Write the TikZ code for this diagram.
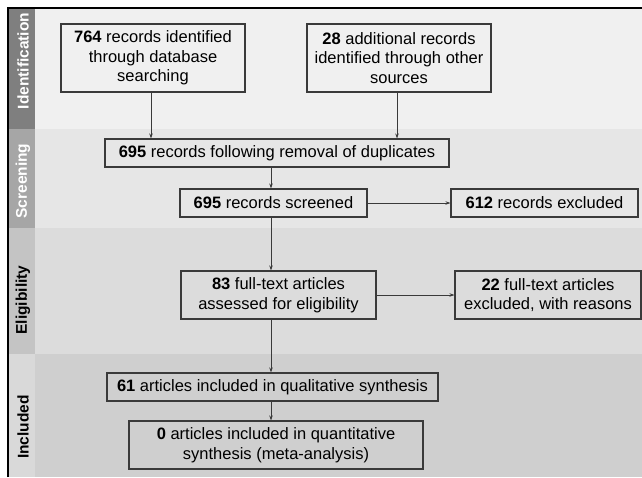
\documentclass[tikz,border=0pt]{standalone}
\usepackage{fontspec}
\setmainfont{Liberation Sans}
\usetikzlibrary{arrows.meta}
\definecolor{bandA}{HTML}{F0F0F0}
\definecolor{bandB}{HTML}{E6E6E6}
\definecolor{bandC}{HTML}{DCDCDC}
\definecolor{bandD}{HTML}{CFCFCF}
\definecolor{stripA}{HTML}{7F7F7F}
\definecolor{stripB}{HTML}{A6A6A6}
\definecolor{stripC}{HTML}{C4C4C4}
\definecolor{stripD}{HTML}{D9D9D9}
\definecolor{boxline}{HTML}{3A3A3A}
\tikzset{
  flowbox/.style={draw=boxline, line width=1.1pt, rectangle, align=center, inner sep=0pt,
    font=\fontsize{16.5}{19.5}\selectfont},
  flowarrow/.style={draw=boxline, line width=0.8pt, -{Stealth[length=5pt,width=3.5pt]}},
  stagelabel/.style={rotate=90, font=\fontsize{15.5}{18}\selectfont\bfseries, inner sep=0pt}
}
\begin{document}
\begin{tikzpicture}[x=1pt,y=-1pt]
\useasboundingbox (0,0) rectangle (642,477);
% bands
\fill[white] (0,0) rectangle (642,477);
\fill[bandA] (9,8) rectangle (642,129);
\fill[bandB] (9,129) rectangle (642,228);
\fill[bandC] (9,228) rectangle (642,354);
\fill[bandD] (9,354) rectangle (642,477);
\fill[stripA] (9,8) rectangle (35,129);
\fill[stripB] (9,129) rectangle (35,228);
\fill[stripC] (9,228) rectangle (35,354);
\fill[stripD] (9,354) rectangle (35,477);
% frame
\draw[black, line width=2pt] (8,477) -- (8,7.5) -- (642,7.5);
% stage labels
\node[stagelabel, text=white] (lid) at (23,61) {Identification};
\node[stagelabel, text=white] (lsc) at (23,181) {Screening};
\node[stagelabel, text=black] (lel) at (23,300) {Eligibility};
\node[stagelabel, text=black] (lin) at (23,427) {Included};
% boxes
\node[flowbox, minimum width=184pt, minimum height=68pt] (b1) at (153,58)
  {\textbf{764} records identified\\through database\\searching};
\node[flowbox, minimum width=184pt, minimum height=68pt] (b2) at (399,58)
  {\textbf{28} additional records\\identified through other\\sources};
\node[flowbox, minimum width=344pt, minimum height=28pt] (b3) at (277,153)
  {\textbf{695} records following removal of duplicates};
\node[flowbox, minimum width=187pt, minimum height=28pt] (b4) at (273.5,203)
  {\textbf{695} records screened};
\node[flowbox, minimum width=187pt, minimum height=28pt] (b5) at (544.5,203)
  {\textbf{612} records excluded};
\node[flowbox, minimum width=195pt, minimum height=48pt] (b6) at (278.5,295)
  {\textbf{83} full-text articles\\assessed for eligibility};
\node[flowbox, minimum width=186pt, minimum height=48pt] (b7) at (548,295)
  {\textbf{22} full-text articles\\excluded, with reasons};
\node[flowbox, minimum width=331pt, minimum height=28pt] (b8) at (272.5,387)
  {\textbf{61} articles included in qualitative synthesis};
\node[flowbox, minimum width=294pt, minimum height=48pt] (b9) at (276,445)
  {\textbf{0} articles included in quantitative\\synthesis (meta-analysis)};
% connectors
\coordinate (ax) at (271,0);
\coordinate (a1) at (151,0);
\coordinate (a2) at (397,0);
\draw[flowarrow] (b1.south -| a1) -- (b3.north -| a1);
\draw[flowarrow] (b2.south -| a2) -- (b3.north -| a2);
\draw[flowarrow] (b3.south -| ax) -- (b4.north -| ax);
\draw[flowarrow] (b4.east) -- (b5.west);
\draw[flowarrow] (b4.south -| ax) -- (b6.north -| ax);
\draw[flowarrow] (b6.east) -- (b7.west);
\draw[flowarrow] (b6.south -| ax) -- (b8.north -| ax);
\draw[flowarrow] (b8.south -| ax) -- (b9.north -| ax);
\end{tikzpicture}
\end{document}
